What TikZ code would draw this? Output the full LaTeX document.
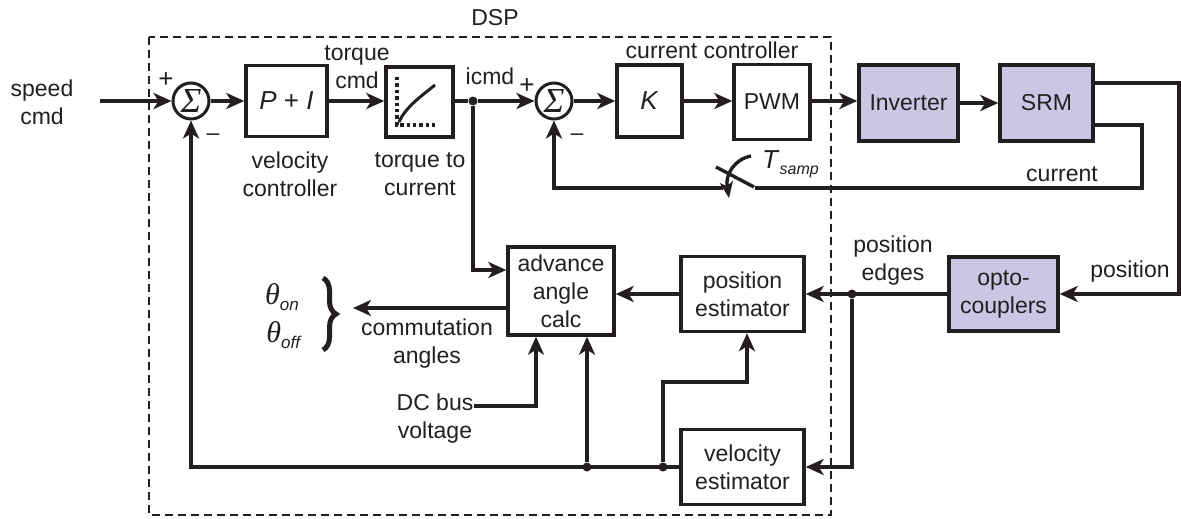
\documentclass[tikz,border=0pt]{standalone}
\usepackage{fontspec}
\usepackage{graphicx}
\setmainfont{Liberation Sans}
\newfontfamily\serifgr{Liberation Serif}
\usetikzlibrary{arrows.meta,decorations.pathreplacing,calc}
\definecolor{ink}{HTML}{231F20}
\definecolor{lav}{HTML}{C9C7E3}
\tikzset{
  blk/.style={draw=ink, line width=3.4pt, inner sep=0pt, align=center, text=ink},
  hw/.style={blk, fill=lav},
  sumnode/.style={circle, draw=ink, line width=3pt, minimum size=36pt, inner sep=0pt, text=ink},
  lbl/.style={align=center, text=ink, inner sep=0pt},
  arr/.style={draw=ink, line width=3.6pt, -{Stealth[length=18pt,width=16pt,inset=5pt]}},
  ln/.style={draw=ink, line width=3.6pt},
  dot/.style={circle, fill=ink, minimum size=9pt, inner sep=0pt},
}
\newcommand{\sumsym}{\resizebox{!}{23pt}{\serifgr\itshape Σ}}
\begin{document}
\begin{tikzpicture}[x=1pt,y=-1pt,font=\fontsize{23}{28}\selectfont]
\useasboundingbox (0,0) rectangle (1181,519);
% DSP frame
\draw[ink, line width=2.2pt, dash pattern=on 8pt off 5pt] (149,37) rectangle (831,515);
\node[lbl] (dsp) at (495,18) {DSP};

% top row
\node[lbl] (speed) at (42,102) {speed\\cmd};
\coordinate (sin) at (100,101);
\node[sumnode] (s1) at (191,101) {\sumsym};
\node[lbl] (s1p) at (166,80) {\fontsize{26}{28}\selectfont +};
\node[lbl] (s1m) at (213,137) {--};
\node[blk, minimum width=81pt, minimum height=71pt] (pi) at (286.5,101) {\fontsize{26}{28}\selectfont\textit{P} + \textit{I}};
\node[lbl] (picap) at (290,174) {velocity\\controller};
\node[lbl] (tcmd) at (357,67) {torque\\cmd};
\node[blk, minimum width=67pt, minimum height=70pt] (tc) at (419.5,102) {};
\node[lbl] (tccap) at (420,174) {torque to\\current};
\node[dot] (j1) at (473,101) {};
\node[lbl] (icmd) at (490,76) {icmd};
\node[sumnode] (s2) at (554,101) {\sumsym};
\node[lbl] (s2p) at (527,86) {\fontsize{26}{28}\selectfont +};
\node[lbl] (s2m) at (577,137) {--};
\node[blk, minimum width=65pt, minimum height=72pt] (k) at (649.5,101) {\fontsize{26}{28}\selectfont\textit{K}};
\node[blk, minimum width=76pt, minimum height=75pt] (pwm) at (772,102) {PWM};
\node[lbl] (cc) at (712,50) {current controller};
\node[hw, minimum width=99pt, minimum height=76pt] (inv) at (908.5,103) {Inverter};
\node[hw, minimum width=93pt, minimum height=76pt] (srm) at (1046.5,103) {SRM};

% torque-to-current icon
\draw[ink, line width=3.4pt, dash pattern=on 3.4pt off 3pt] (397,77) -- (397,125) -- (435,125);
\draw[ink, line width=3pt] (399,122) .. controls (405,108) and (420,97) .. (435,85);

% top row arrows
\draw[arr] (sin) -- (s1.west);
\draw[arr] (s1.east) -- (pi.west);
\draw[arr] (pi.east) -- (tc.west |- pi.east);
\draw[ln] (tc.east |- j1) -- (j1);
\draw[arr] (j1) -- (s2.west);
\draw[arr] (s2.east) -- (k.west);
\draw[arr] (k.east) -- (pwm.west |- k.east);
\draw[arr] (pwm.east |- 0,101) -- (inv.west |- 0,101);
\draw[arr] (inv.east) -- (srm.west);

% current feedback with sampler
\coordinate (swr) at (755,188);
\coordinate (swl) at (723,188);
\draw[ln] ([yshift=-22pt]srm.east) -| (1142,188) -- (swr);
\draw[arr] (swl) -| (s2.south);
\draw[ink, line width=3.4pt] (716,167) -- (754,187);
\draw[ink, line width=3.4pt, -{Stealth[length=16pt,width=13pt,inset=4pt]}] (751,156) .. controls (735,159) and (725,174) .. (729,198);
\node[lbl, anchor=west] (ts) at (762,164) {\fontsize{26}{28}\selectfont\textit{T}\raisebox{-6pt}{\fontsize{16}{18}\selectfont\textit{samp}}};
\node[lbl] (cur) at (1062,174) {current};

% position path
\node[hw, minimum width=109pt, minimum height=74pt] (opto) at (1003.5,294) {opto-\\couplers};
\coordinate (pr) at (1179,294);
\draw[arr] ([yshift=20pt]srm.east) -| (pr) -- (opto.east);
\node[lbl] (pos) at (1130,272) {position};
\node[blk, minimum width=123pt, minimum height=75pt] (pe) at (742.5,294) {position\\estimator};
\node[blk, minimum width=123pt, minimum height=75pt] (ve) at (742.5,467) {velocity\\estimator};
\node[dot] (j2) at (852,294) {};
\node[lbl] (pedge) at (893,261) {position\\edges};
\draw[arr] (opto.west) -- (pe.east);
\draw[arr] (j2) |- (ve.east);

\node[blk, minimum width=106pt, minimum height=88pt] (adv) at (561,291) {advance\\angle\\calc};
\draw[arr] (pe.west) -- (pe.west -| adv.east);
\draw[arr] (j1) |- ([yshift=21pt]adv.west);
\node[dot] (j3) at (663,467) {};
\node[dot] (j4) at (587,467) {};
\draw[arr] (ve.west) -| (s1.south);
\draw[arr] (j4) -- (j4 |- adv.south);
\draw[arr] (j3) |- (747,382) -- (pe.south -| 747,0);

% commutation angles output
\coordinate (cout) at (353,308);
\draw[arr] ([yshift=-17pt]adv.west) -- (cout);
\node[lbl] (cang) at (427,344) {commutation\\angles};
\draw[ink, line width=5pt, decorate, decoration={brace, amplitude=13pt}] (323,278) -- (323,350);
\node[lbl] (thon) at (282,297) {{\serifgr\itshape\fontsize{30}{30}\selectfont θ}\raisebox{-6pt}{\fontsize{17}{18}\selectfont\textit{on}}};
\node[lbl] (thoff) at (284,335) {{\serifgr\itshape\fontsize{30}{30}\selectfont θ}\raisebox{-6pt}{\fontsize{17}{18}\selectfont\textit{off}}};

% DC bus voltage
\node[lbl] (dc) at (435,419) {DC bus\\voltage};
\draw[arr] ([yshift=13pt]dc.east) -| ([xshift=-25pt]adv.south);
\end{tikzpicture}
\end{document}
